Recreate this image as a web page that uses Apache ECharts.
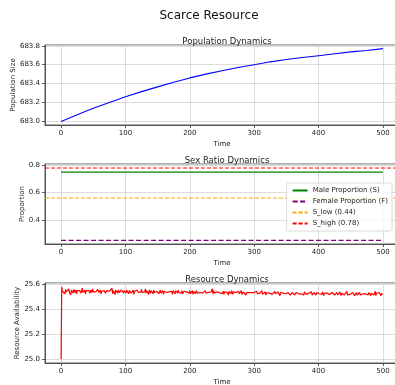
<!DOCTYPE html>
<html>
<head>
<meta charset="utf-8">
<script src="https://cdn.jsdelivr.net/npm/echarts@6/dist/echarts.min.js"></script>
<style>
  html, body { margin: 0; padding: 0; background: #fff; }
  #chart { width: 395px; height: 385px; }
</style>
</head>
<body>
<div id="chart"></div>
<script>
// population curve, read every 25 steps
const popTime = [0, 25, 50, 75, 100, 125, 150, 175, 200, 225, 250, 275, 300, 325, 350, 375, 400, 425, 450, 475, 500];
const popSize = [683.00, 683.07, 683.14, 683.20, 683.26, 683.315, 683.365, 683.415, 683.46, 683.50, 683.535,
                 683.57, 683.60, 683.63, 683.655, 683.675, 683.695, 683.715, 683.735, 683.75, 683.77];

// sex ratio
const ratioTime = [0, 500];
const maleProp = [0.75, 0.75];
const femaleProp = [0.25, 0.25];
const sLowLine = 0.56;   // drawn level of the S_low (0.44) guide
const sHighLine = 0.78;

// resource availability, t = 0..500
const resource = [25.0,
  25.575, 25.54, 25.55, 25.53, 25.545, 25.52, 25.555, 25.535, 25.55, 25.525, 25.545, 25.56, 25.53, 25.54, 25.51, 25.55, 25.535, 25.545, 25.525, 25.555, 25.54, 25.53, 25.55, 25.52, 25.545,
  25.535, 25.56, 25.53, 25.545, 25.55, 25.525, 25.54, 25.565, 25.53, 25.545, 25.535, 25.55, 25.52, 25.545, 25.54, 25.555, 25.53, 25.545, 25.535, 25.525, 25.55, 25.54, 25.53, 25.56, 25.535,
  25.545, 25.53, 25.55, 25.535, 25.54, 25.525, 25.555, 25.54, 25.53, 25.545, 25.55, 25.52, 25.54, 25.535, 25.55, 25.53, 25.545, 25.555, 25.525, 25.54, 25.545, 25.53, 25.55, 25.535, 25.54,
  25.53, 25.555, 25.54, 25.565, 25.52, 25.545, 25.53, 25.56, 25.515, 25.55, 25.54, 25.535, 25.525, 25.55, 25.53, 25.545, 25.54, 25.52, 25.55, 25.535, 25.54, 25.525, 25.545, 25.53, 25.54,
  25.525, 25.55, 25.535, 25.54, 25.52, 25.545, 25.53, 25.555, 25.525, 25.54, 25.535, 25.55, 25.515, 25.54, 25.53, 25.545, 25.525, 25.55, 25.535, 25.53, 25.545, 25.52, 25.54, 25.535, 25.555,
  25.53, 25.545, 25.52, 25.54, 25.535, 25.56, 25.525, 25.545, 25.53, 25.54, 25.515, 25.55, 25.535, 25.525, 25.545, 25.53, 25.54, 25.52, 25.55, 25.53, 25.535, 25.545, 25.525, 25.54, 25.53,
  25.545, 25.52, 25.535, 25.55, 25.525, 25.54, 25.53, 25.545, 25.515, 25.54, 25.535, 25.525, 25.55, 25.53, 25.54, 25.52, 25.545, 25.535, 25.53, 25.55, 25.525, 25.54, 25.515, 25.545, 25.53,
  25.535, 25.52, 25.545, 25.53, 25.54, 25.525, 25.55, 25.53, 25.515, 25.54, 25.535, 25.525, 25.545, 25.52, 25.535, 25.54, 25.53, 25.525, 25.55, 25.535, 25.52, 25.54, 25.53, 25.525, 25.545,
  25.52, 25.535, 25.53, 25.545, 25.515, 25.54, 25.525, 25.535, 25.52, 25.545, 25.53, 25.525, 25.54, 25.515, 25.535, 25.53, 25.545, 25.52, 25.535, 25.525, 25.54, 25.53, 25.515, 25.545, 25.525,
  25.535, 25.52, 25.54, 25.53, 25.525, 25.545, 25.515, 25.535, 25.53, 25.56, 25.52, 25.545, 25.525, 25.53, 25.54, 25.515, 25.535, 25.525, 25.54, 25.52, 25.53, 25.545, 25.525, 25.535, 25.52,
  25.53, 25.54, 25.515, 25.535, 25.525, 25.545, 25.52, 25.53, 25.535, 25.51, 25.54, 25.525, 25.53, 25.52, 25.545, 25.53, 25.515, 25.535, 25.525, 25.54, 25.52, 25.53, 25.535, 25.515, 25.525,
  25.54, 25.52, 25.53, 25.525, 25.545, 25.515, 25.53, 25.535, 25.52, 25.525, 25.54, 25.51, 25.53, 25.525, 25.535, 25.52, 25.53, 25.545, 25.515, 25.525, 25.53, 25.52, 25.535, 25.525, 25.53,
  25.515, 25.53, 25.525, 25.54, 25.52, 25.53, 25.51, 25.535, 25.525, 25.52, 25.53, 25.545, 25.515, 25.525, 25.53, 25.52, 25.535, 25.51, 25.525, 25.53, 25.52, 25.54, 25.515, 25.525, 25.53,
  25.52, 25.535, 25.515, 25.525, 25.53, 25.51, 25.54, 25.52, 25.525, 25.53, 25.515, 25.535, 25.52, 25.525, 25.505, 25.53, 25.52, 25.535, 25.515, 25.525, 25.53, 25.51, 25.525, 25.52, 25.535,
  25.515, 25.525, 25.53, 25.52, 25.54, 25.51, 25.525, 25.52, 25.53, 25.515, 25.525, 25.535, 25.51, 25.52, 25.53, 25.525, 25.515, 25.54, 25.52, 25.525, 25.51, 25.53, 25.52, 25.515, 25.53,
  25.525, 25.51, 25.535, 25.52, 25.525, 25.515, 25.53, 25.52, 25.505, 25.525, 25.53, 25.515, 25.52, 25.535, 25.51, 25.525, 25.52, 25.53, 25.515, 25.525, 25.51, 25.53, 25.52, 25.525, 25.515,
  25.52, 25.53, 25.51, 25.525, 25.515, 25.535, 25.52, 25.505, 25.525, 25.52, 25.53, 25.515, 25.525, 25.51, 25.52, 25.535, 25.515, 25.525, 25.52, 25.51, 25.53, 25.515, 25.525, 25.52, 25.51,
  25.525, 25.515, 25.53, 25.52, 25.51, 25.525, 25.515, 25.535, 25.52, 25.505, 25.525, 25.515, 25.52, 25.53, 25.51, 25.525, 25.515, 25.52, 25.54, 25.51, 25.52, 25.525, 25.50, 25.515, 25.525,
  25.51, 25.52, 25.53, 25.515, 25.525, 25.505, 25.52, 25.515, 25.53, 25.51, 25.525, 25.52, 25.515, 25.53, 25.51, 25.52, 25.525, 25.505, 25.52, 25.515, 25.53, 25.51, 25.52, 25.525, 25.515,
  25.52, 25.51, 25.53, 25.515, 25.52, 25.505, 25.525, 25.515, 25.52, 25.53, 25.51, 25.52, 25.54, 25.505, 25.525, 25.515, 25.52, 25.51, 25.53, 25.515, 25.52, 25.505, 25.525, 25.51, 25.515
];

const xTicks = [0, 100, 200, 300, 400, 500];

const font = 'DejaVu Sans';
const textColor = '#222';

function xAxisFor(gridIndex) {
  return {
    type: 'value', gridIndex: gridIndex, min: -25, max: 525, splitNumber: 5,
    name: 'Time', nameLocation: 'middle', nameGap: 16, nameMoveOverlap: false,
    nameTextStyle: { fontFamily: font, fontSize: 7, color: textColor },
    axisLine: { show: true, onZero: false, lineStyle: { color: '#333', width: 0.8 } },
    axisTick: { show: true, length: 3, lineStyle: { color: '#333', width: 0.8 } },
    axisLabel: {
      fontFamily: font, fontSize: 7, color: textColor, margin: 5,
      showMinLabel: false, showMaxLabel: false,
      formatter: v => xTicks.includes(v) ? String(v) : ''
    },
    splitLine: { show: true, lineStyle: { color: '#d3d3d3', width: 0.8 } }
  };
}

function yAxisFor(gridIndex, name, min, max, nameGap, splits) {
  return {
    type: 'value', gridIndex: gridIndex, min: min, max: max, splitNumber: splits,
    name: name, nameLocation: 'middle', nameGap: nameGap, nameMoveOverlap: false,
    nameTextStyle: { fontFamily: font, fontSize: 7, color: textColor },
    axisLine: { show: true, onZero: false, lineStyle: { color: '#333', width: 0.8 } },
    axisTick: { show: true, length: 3, lineStyle: { color: '#333', width: 0.8 } },
    axisLabel: {
      fontFamily: font, fontSize: 7, color: textColor, margin: 5,
      showMinLabel: false, showMaxLabel: false,
      formatter: v => v.toFixed(1)
    },
    splitLine: { show: true, lineStyle: { color: '#d3d3d3', width: 0.8 } }
  };
}

const chart = echarts.init(document.getElementById('chart'), null, { renderer: 'canvas' });

const gridBox = {
  show: true, borderColor: '#333', borderWidth: 0.8, backgroundColor: 'transparent',
  containLabel: false, outerBoundsMode: 'none'
};

const option = {
  animation: false,
  backgroundColor: '#fff',
  title: [
    { text: 'Scarce Resource', left: 204, top: 5, textAlign: 'center',
      textStyle: { fontFamily: font, fontSize: 12, fontWeight: 'normal', color: '#111' } },
    { text: 'Population Dynamics', left: 222, top: 32, textAlign: 'center',
      textStyle: { fontFamily: font, fontSize: 8.5, fontWeight: 'normal', color: '#222' } },
    { text: 'Sex Ratio Dynamics', left: 222, top: 151, textAlign: 'center',
      textStyle: { fontFamily: font, fontSize: 8.5, fontWeight: 'normal', color: '#222' } },
    { text: 'Resource Dynamics', left: 222, top: 270, textAlign: 'center',
      textStyle: { fontFamily: font, fontSize: 8.5, fontWeight: 'normal', color: '#222' } }
  ],
  grid: [
    Object.assign({ left: 45, top: 45, width: 354, height: 80 }, gridBox),
    Object.assign({ left: 45, top: 164, width: 354, height: 80 }, gridBox),
    Object.assign({ left: 45, top: 283, width: 354, height: 80 }, gridBox)
  ],
  xAxis: [xAxisFor(0), xAxisFor(1), xAxisFor(2)],
  yAxis: [
    yAxisFor(0, 'Population Size', 682.962, 683.808, 28, 5),
    yAxisFor(1, 'Proportion', 0.2235, 0.8095, 19.5, 3),
    yAxisFor(2, 'Resource Availability', 24.968, 25.606, 24.5, 3)
  ],
  legend: {
    right: 3, top: 183,
    orient: 'vertical',
    itemWidth: 15, itemHeight: 6, itemGap: 4,
    padding: [4, 4, 4, 5],
    backgroundColor: 'rgba(255,255,255,0.8)',
    borderColor: '#d0d0d0', borderWidth: 0.8, borderRadius: 2,
    itemStyle: { opacity: 0 },
    textStyle: { fontFamily: font, fontSize: 7, color: '#222' },
    data: ['Male Proportion (S)', 'Female Proportion (F)', 'S_low (0.44)', 'S_high (0.78)']
  },
  series: [
    {
      type: 'line', xAxisIndex: 0, yAxisIndex: 0, symbol: 'none',
      lineStyle: { color: '#0000ff', width: 1.1 }, itemStyle: { color: '#0000ff' },
      data: popTime.map((t, i) => [t, popSize[i]])
    },
    {
      name: 'Male Proportion (S)', type: 'line', xAxisIndex: 1, yAxisIndex: 1, symbol: 'none',
      lineStyle: { color: '#008000', width: 1.1 }, itemStyle: { color: '#008000' },
      data: ratioTime.map((t, i) => [t, maleProp[i]])
    },
    {
      name: 'Female Proportion (F)', type: 'line', xAxisIndex: 1, yAxisIndex: 1, symbol: 'none',
      lineStyle: { color: '#800080', width: 1.1, type: [5, 2.5] }, itemStyle: { color: '#800080' },
      data: ratioTime.map((t, i) => [t, femaleProp[i]])
    },
    {
      name: 'S_low (0.44)', type: 'line', xAxisIndex: 1, yAxisIndex: 1, symbol: 'none',
      lineStyle: { color: '#ffa500', width: 1.0, type: [4, 2] }, itemStyle: { color: '#ffa500' },
      data: [[-25, sLowLine], [525, sLowLine]]
    },
    {
      name: 'S_high (0.78)', type: 'line', xAxisIndex: 1, yAxisIndex: 1, symbol: 'none',
      lineStyle: { color: '#ff0000', width: 1.0, type: [4, 2] }, itemStyle: { color: '#ff0000' },
      data: [[-25, sHighLine], [525, sHighLine]]
    },
    {
      type: 'line', xAxisIndex: 2, yAxisIndex: 2, symbol: 'none',
      lineStyle: { color: '#ff0000', width: 1.2 }, itemStyle: { color: '#ff0000' },
      data: resource.map((v, i) => [i, v])
    }
  ]
};

chart.setOption(option);
</script>
</body>
</html>
